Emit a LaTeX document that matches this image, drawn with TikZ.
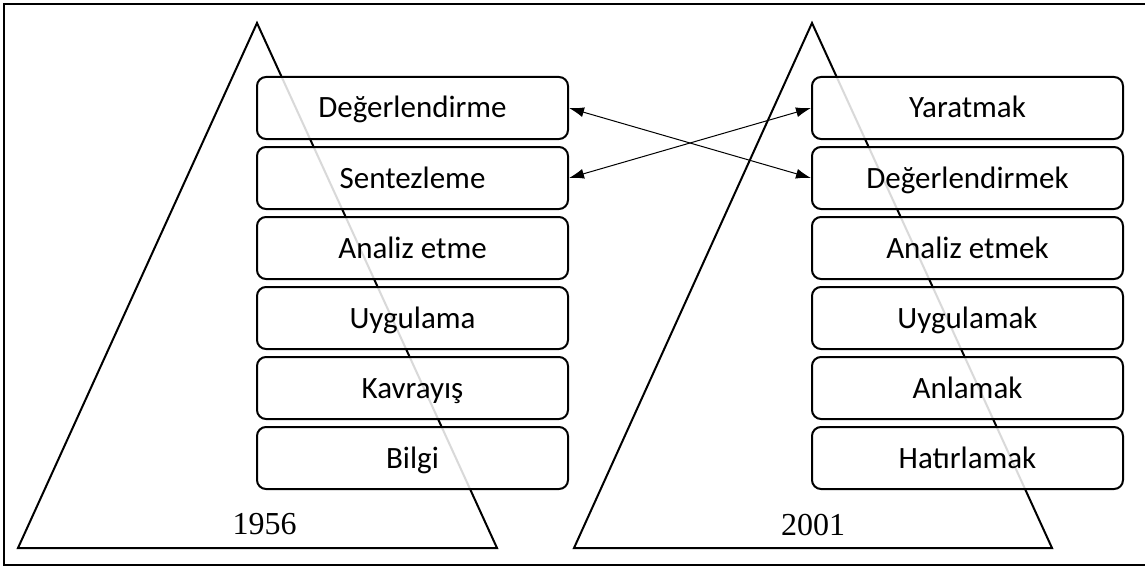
\documentclass[tikz,border=0pt]{standalone}
\usepackage{fontspec}
\setmainfont{Liberation Serif}
\newfontfamily\boxfont{Carlito}
\usepackage{tikz}
\usetikzlibrary{arrows.meta,positioning}

\begin{document}
\begin{tikzpicture}[x=0.5pt,y=-0.5pt,
    level/.style={draw,line width=1pt,rounded corners=4.5pt,fill=white,fill opacity=0.85,text opacity=1,
      minimum width=155.5pt,minimum height=31pt,inner sep=0pt,text height=10pt,text depth=0pt,
      font=\boxfont\fontsize{15.5}{18}\selectfont},
    year/.style={font=\fontsize{16}{19}\selectfont,inner sep=0pt},
    link/.style={line width=0.5pt,{Latex[length=7.5pt,width=5pt]}-{Latex[length=7.5pt,width=5pt]}}]
  \useasboundingbox (0,0) rectangle (1145,567);
  % frame
  \draw[line width=1pt] (1150,4) -- (4,4) -- (4,565) -- (1150,565);
  % triangles
  \draw[line width=1pt,line join=miter] (257,23) -- (18,548) -- (497,548) -- cycle;
  \draw[line width=1pt,line join=miter] (812,23) -- (574,548) -- (1052,548) -- cycle;
  % 1956
  \foreach \t [count=\i from 0] in {Değerlendirme,Sentezleme,Analiz etme,Uygulama,Kavrayış,Bilgi}{
      \node[level] (l\i) at (412.5,108+70*\i) {\t};
  }
  % 2001
  \foreach \t [count=\i from 0] in {Yaratmak,Değerlendirmek,Analiz etmek,Uygulamak,Anlamak,Hatırlamak}{
      \node[level] (r\i) at (967.5,108+70*\i) {\t};
  }
  \node[year] (y1) at (264.5,524) {1956};
  \node[year] (y2) at (813,525) {2001};
  \draw[link] (l0.east) -- (r1.west);
  \draw[link] (l1.east) -- (r0.west);
\end{tikzpicture}
\end{document}
